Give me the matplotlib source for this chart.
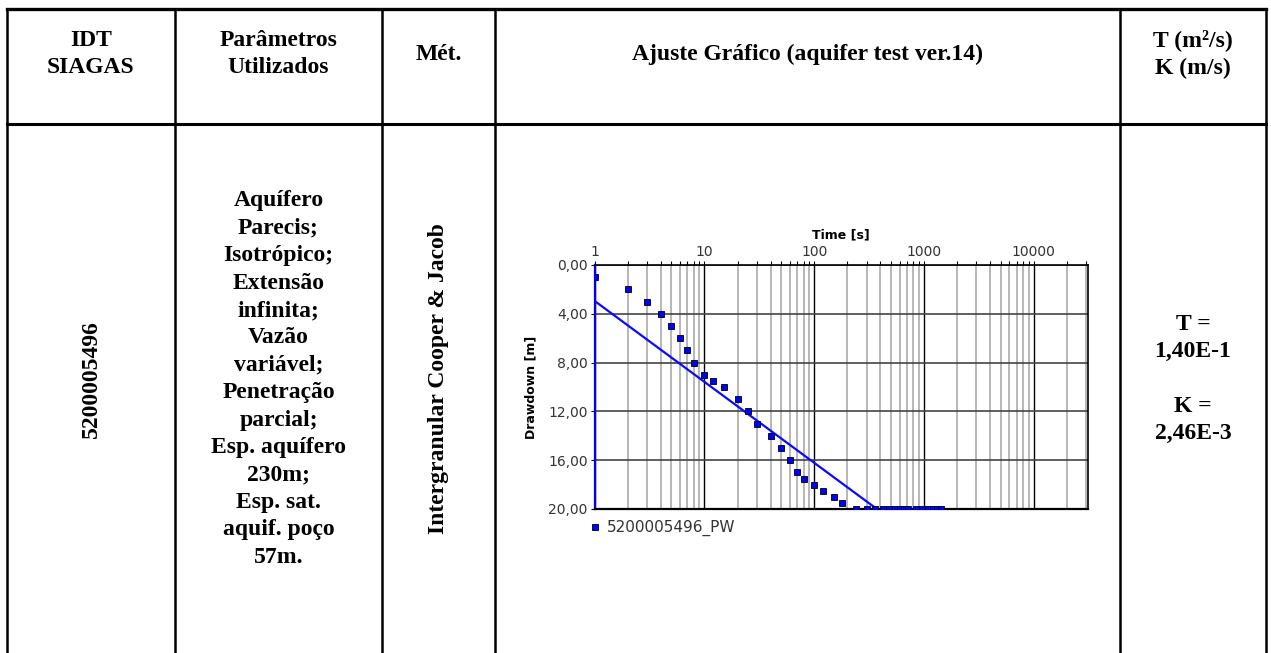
import matplotlib.pyplot as plt
from matplotlib.ticker import FixedLocator, LogLocator, NullFormatter, FuncFormatter

# pumping test data
time_s = [1, 2, 3, 4, 5, 6, 7, 8, 10, 12, 15, 20, 25, 30, 40, 50, 60, 70, 80,
          100, 120, 150, 180, 240, 300, 360, 420, 480, 540, 600, 660, 720,
          840, 960, 1080, 1200, 1320, 1440]
drawdown_m = [1.0, 2.0, 3.0, 4.0, 5.0, 6.0, 7.0, 8.0, 9.0, 9.5, 10.0, 11.0,
              12.0, 13.0, 14.0, 15.0, 16.0, 17.0, 17.5, 18.0, 18.5, 19.0,
              19.5, 20.0, 20.0, 20.0, 20.0, 20.0, 20.0, 20.0, 20.0, 20.0,
              20.0, 20.0, 20.0, 20.0, 20.0, 20.0]
# Cooper & Jacob straight line (end points)
fit_time = [1, 372]
fit_drawdown = [2.95, 20.0]

x_ticks = [1, 10, 100, 1000, 10000]
y_ticks = [0, 4, 8, 12, 16, 20]
series_name = "5200005496_PW"

# table text
header_cells = ["IDT\nSIAGAS", "Parâmetros\nUtilizados", "Mét.",
                "Ajuste Gráfico (aquifer test ver.14)", "T (m²/s)\nK (m/s)"]
well_id = "5200005496"
params_text = ("Aquífero\nParecis;\nIsotrópico;\nExtensão\ninfinita;\nVazão\n"
               "variável;\nPenetração\nparcial;\nEsp. aquífero\n230m;\n"
               "Esp. sat.\naquif. poço\n57m.")
method_text = "Intergranular Cooper & Jacob"
result_text = "T =\n1,40E-1\n\nK =\n2,46E-3"

W, H = 1271, 653
fig = plt.figure(figsize=(W / 100, H / 100), dpi=100)

# ---- table frame ----
tab = fig.add_axes([0, 0, 1, 1])
tab.set_xlim(0, W)
tab.set_ylim(H, 0)
tab.axis("off")

cols = [7, 175, 382, 495, 1120, 1266]
top, head_bot = 9, 124
tab.plot([cols[0], cols[-1]], [top, top], color="black", lw=2.4)
tab.plot([cols[0], cols[-1]], [head_bot, head_bot], color="black", lw=2.2)
for cx in cols:
    tab.plot([cx, cx], [top, H], color="black", lw=1.8)

serif = dict(family=["Liberation Serif", "DejaVu Serif"], weight="bold",
             fontsize=17, ha="center", va="center", linespacing=1.4)
centers = [(cols[i] + cols[i + 1]) / 2 for i in range(5)]
for cx, txt in zip(centers, header_cells):
    tab.text(cx, 54, txt, **serif)

body_y = 379
tab.text(centers[0], body_y, well_id, rotation=90, **serif)
tab.text(centers[1], body_y, params_text, **serif)
tab.text(centers[2], body_y, method_text, rotation=90, **serif)
tab.text(centers[4], body_y, result_text, **serif)

# ---- embedded drawdown chart ----
ax = fig.add_axes([594.7 / W, 1 - 509 / H, 493 / W, 244 / H])
ax.set_xscale("log")
ax.set_xlim(1, 31000)
ax.set_ylim(20, 0)

ax.xaxis.set_major_locator(FixedLocator(x_ticks))
ax.xaxis.set_minor_locator(LogLocator(base=10, subs=range(2, 10)))
ax.xaxis.set_minor_formatter(NullFormatter())
ax.xaxis.set_major_formatter(FuncFormatter(lambda v, p: "%d" % v))
ax.yaxis.set_major_locator(FixedLocator(y_ticks))
ax.yaxis.set_major_formatter(FuncFormatter(lambda v, p: ("%.2f" % v).replace(".", ",")))

ax.xaxis.tick_top()
ax.xaxis.set_label_position("top")
ax.tick_params(axis="x", which="both", direction="out", length=3, width=0.8,
               colors="black", labelcolor="#333333", labelsize=10, pad=1)
ax.tick_params(axis="y", direction="out", length=3, width=0.8,
               colors="black", labelcolor="#333333", labelsize=10, pad=2)

ax.grid(True, which="major", axis="x", color="black", lw=1.0)
ax.grid(True, which="minor", axis="x", color="#aaaaaa", lw=1.2)
ax.grid(True, which="major", axis="y", color="#444444", lw=1.2)
ax.set_axisbelow(True)

for side in ["top", "right", "bottom"]:
    ax.spines[side].set_color("black")
ax.spines["top"].set_linewidth(1.2)
ax.spines["right"].set_linewidth(1.2)
ax.spines["bottom"].set_linewidth(1.6)
ax.spines["left"].set_color("#0000ee")
ax.spines["left"].set_linewidth(1.6)

ax.plot(fit_time, fit_drawdown, color="#0a0aff", lw=1.6, zorder=3)
ax.plot(time_s, drawdown_m, ls="none", marker="s", ms=4.6, mfc="#0000ff",
        mec="black", mew=0.6, zorder=4, label=series_name)

ax.set_xlabel("Time [s]", fontsize=9, fontweight="bold", labelpad=5)
ax.set_ylabel("Drawdown [m]", fontsize=9, fontweight="bold")
ax.yaxis.set_label_coords(-0.117, 0.5)

leg = ax.legend(loc="upper left", bbox_to_anchor=(-0.021, -0.02), frameon=False,
                fontsize=11, handlelength=0.6, handletextpad=0.5, borderaxespad=0)
for t in leg.get_texts():
    t.set_color("#333333")

fig.savefig("out.png", dpi=100)
